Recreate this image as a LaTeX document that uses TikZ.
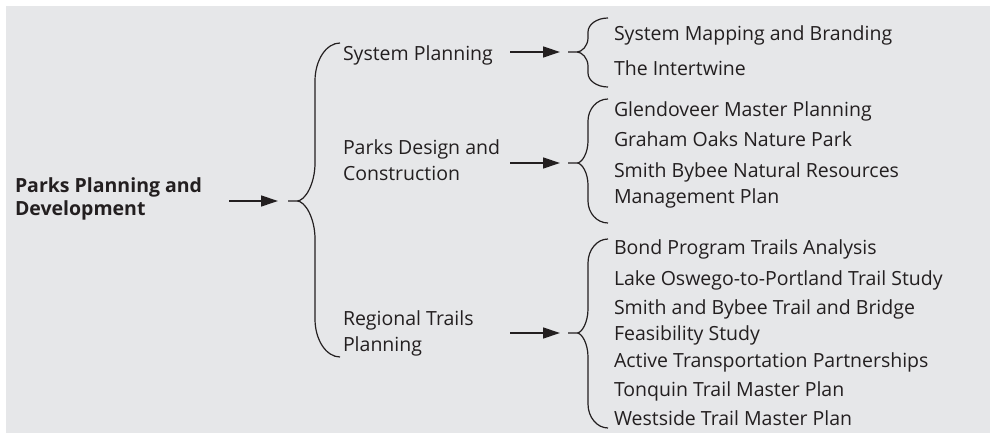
\documentclass[tikz,border=0pt]{standalone}
\usepackage{fontspec}
\setmainfont{Open Sans}
\usetikzlibrary{arrows.meta}
\definecolor{bg}{HTML}{E6E7E9}
\definecolor{ink}{HTML}{231F20}
\newcommand{\BraceShape}[8]{% xtip xtick xvert xend ytop ymid ybot radius
  \draw[bracepath] (#4,#5) .. controls ({#3+0.45*(#4-#3)},#5) and (#3,{#5+0.45*#8}) .. (#3,{#5+#8})
    -- (#3,{#6-#8}) .. controls (#3,{#6-0.45*#8}) and ({#2+0.45*(#3-#2)},#6) .. (#2,#6) -- (#1,#6)
    (#2,#6) .. controls ({#2+0.45*(#3-#2)},#6) and (#3,{#6+0.45*#8}) .. (#3,{#6+#8})
    -- (#3,{#7-#8}) .. controls (#3,{#7-0.45*#8}) and ({#3+0.45*(#4-#3)},#7) .. (#4,#7);}
\tikzset{
  txt/.style={anchor=base west, inner sep=0pt, outer sep=0pt, text=ink, font=\fontsize{19.5}{23}\selectfont},
  boldtxt/.style={txt, font=\fontsize{19.5}{23}\selectfont\bfseries},
  arr/.style={draw=ink, line width=1.3pt, -{Triangle[length=17pt,width=11pt]}},
  bracepath/.style={draw=ink, line width=1.2pt}
}
\begin{document}
\begin{tikzpicture}[x=1pt,y=-1pt]
\useasboundingbox (0,0) rectangle (990,435);
\fill[bg] (6,6) rectangle (990,433);
% level 1
\node[boldtxt] (l1a) at (15,193) {Parks Planning and};
\node[boldtxt] (l1b) at (15,216) {Development};
% level 2
\node[txt] (sp) at (343,61) {System Planning};
\node[txt] (pda) at (343,155) {Parks Design and};
\node[txt] (pdb) at (343,181) {Construction};
\node[txt] (rta) at (343,326) {Regional Trails};
\node[txt] (rtb) at (343,352) {Planning};
% level 3
\node[txt] (i1) at (614,41) {System Mapping and Branding};
\node[txt] (i2) at (614,76) {The Intertwine};
\node[txt] (i3) at (614,117) {Glendoveer Master Planning};
\node[txt] (i4) at (614,147) {Graham Oaks Nature Park};
\node[txt] (i5a) at (614,178) {Smith Bybee Natural Resources};
\node[txt] (i5b) at (614,204) {Management Plan};
\node[txt] (i6) at (614,255) {Bond Program Trails Analysis};
\node[txt] (i7) at (614,286) {Lake Oswego-to-Portland Trail Study};
\node[txt] (i8a) at (614,315) {Smith and Bybee Trail and Bridge};
\node[txt] (i8b) at (614,341) {Feasibility Study};
\node[txt] (i9) at (614,367) {Active Transportation Partnerships};
\node[txt] (i10) at (614,396) {Tonquin Trail Master Plan};
\node[txt] (i11) at (614,425) {Westside Trail Master Plan};
% arrows
\coordinate (s0) at (229,201); \coordinate (t0) at (278,201);
\coordinate (s1) at (510,52);  \coordinate (t1) at (560,52);
\coordinate (s2) at (510,163); \coordinate (t2) at (560,163);
\coordinate (s3) at (510,333); \coordinate (t3) at (560,333);
\draw[arr] (s0) -- (t0);
\draw[arr] (s1) -- (t1);
\draw[arr] (s2) -- (t2);
\draw[arr] (s3) -- (t3);
% braces
\BraceShape{288}{297}{315}{340}{43}{201}{357}{38}
\BraceShape{568}{577}{588}{608}{18}{52}{87}{14}
\BraceShape{568}{577}{588}{608}{99}{163}{223}{22}
\BraceShape{568}{577}{588}{608}{239}{333}{428}{24}
\end{tikzpicture}
\end{document}
